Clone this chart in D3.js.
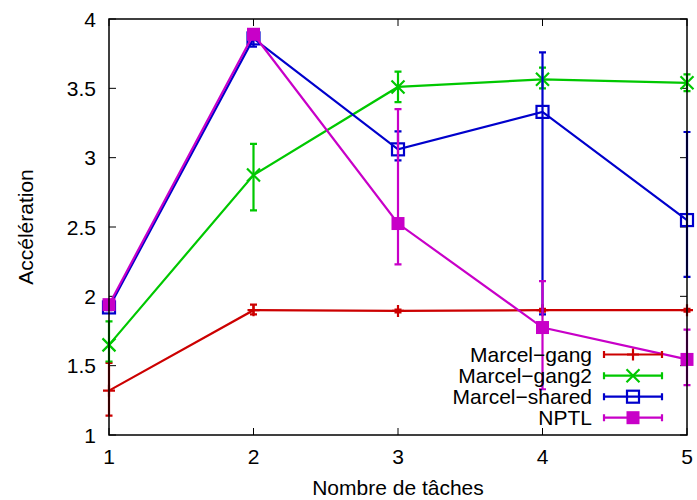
<!DOCTYPE html>
<html><head><meta charset="utf-8">
<script src="https://cdn.jsdelivr.net/npm/d3@7"></script>
<style>body{margin:0;background:#fff}svg{display:block}text{font-family:"Liberation Sans",Arial,sans-serif;fill:#000}</style>
</head><body>
<svg id="c" width="697" height="500"></svg>
<script>
const tasks = [1, 2, 3, 4, 5];
const seriesNames = ["Marcel\u2212gang", "Marcel\u2212gang2", "Marcel\u2212shared", "NPTL"];
const gangVal  = [1.32, 1.90, 1.895, 1.90, 1.90];
const gangLow  = [1.14, 1.87, 1.885, 1.89, 1.89];
const gangHigh = [1.52, 1.94, 1.905, 1.91, 1.91];
const gang2Val  = [1.65, 2.875, 3.51, 3.565, 3.54];
const gang2Low  = [1.53, 2.62, 3.40, 3.50, 3.48];
const gang2High = [1.82, 3.10, 3.62, 3.65, 3.60];
const sharedVal  = [1.92, 3.86, 3.06, 3.33, 2.55];
const sharedLow  = [1.90, 3.80, 2.98, 1.87, 2.14];
const sharedHigh = [1.95, 3.88, 3.19, 3.76, 3.185];
const nptlVal  = [1.94, 3.89, 2.525, 1.775, 1.545];
const nptlLow  = [1.92, 3.87, 2.23, 1.33, 1.36];
const nptlHigh = [1.96, 3.91, 3.35, 2.11, 1.76];
const yTicks = [1, 1.5, 2, 2.5, 3, 3.5, 4];
const xTicks = [1, 2, 3, 4, 5];
const colors = ["#cc0000", "#00c800", "#0000cc", "#c800c8"];
const markers = ["plus", "cross", "square", "filled"];

const series = [
  {name: seriesNames[0], v: gangVal, lo: gangLow, hi: gangHigh},
  {name: seriesNames[1], v: gang2Val, lo: gang2Low, hi: gang2High},
  {name: seriesNames[2], v: sharedVal, lo: sharedLow, hi: sharedHigh},
  {name: seriesNames[3], v: nptlVal, lo: nptlLow, hi: nptlHigh}
].map((s, i) => ({...s, color: colors[i], marker: markers[i]}));

const L = 109, R = 687, T = 19, B = 435;
const x = d3.scaleLinear().domain([1, 5]).range([L, R]);
const y = d3.scaleLinear().domain([1, 4]).range([B, T]);
const svg = d3.select("#c");
const FS = 21;

const tk = 7;
const g = svg.append("g");
yTicks.forEach(t => {
  g.append("line").attr("x1", L).attr("x2", L + tk).attr("y1", y(t)).attr("y2", y(t)).attr("stroke", "#000");
  g.append("line").attr("x1", R).attr("x2", R - tk).attr("y1", y(t)).attr("y2", y(t)).attr("stroke", "#000");
  g.append("text").attr("x", 96).attr("y", y(t)).attr("dy", "0.36em").attr("text-anchor", "end")
    .attr("font-size", FS).text(d3.format("")(t));
});
xTicks.forEach(t => {
  g.append("line").attr("x1", x(t)).attr("x2", x(t)).attr("y1", B).attr("y2", B - tk).attr("stroke", "#000");
  g.append("line").attr("x1", x(t)).attr("x2", x(t)).attr("y1", T).attr("y2", T + tk).attr("stroke", "#000");
  g.append("text").attr("x", x(t)).attr("y", 456).attr("dy", "0.36em").attr("text-anchor", "middle")
    .attr("font-size", FS).text(t);
});
svg.append("text").attr("x", (L + R) / 2).attr("y", 487).attr("dy", "0.36em").attr("text-anchor", "middle")
  .attr("font-size", FS).text("Nombre de tâches");
svg.append("text").attr("transform", `translate(25,${(T + B) / 2}) rotate(-90)`).attr("dy", "0.36em")
  .attr("text-anchor", "middle").attr("font-size", FS).text("Accélération");

function drawMarker(sel, type, cx, cy, color) {
  const h = 6.5;
  if (type === "plus") {
    sel.append("path").attr("d", `M${cx - 6},${cy}H${cx + 6}M${cx},${cy - 6}V${cy + 6}`)
      .attr("stroke", color).attr("stroke-width", 2.2).attr("fill", "none");
  } else if (type === "cross") {
    sel.append("path").attr("d", `M${cx - h},${cy - h}L${cx + h},${cy + h}M${cx - h},${cy + h}L${cx + h},${cy - h}`)
      .attr("stroke", color).attr("stroke-width", 2.2).attr("fill", "none");
  } else if (type === "square") {
    sel.append("rect").attr("x", cx - 6).attr("y", cy - 6).attr("width", 12).attr("height", 12)
      .attr("stroke", color).attr("stroke-width", 2.2).attr("fill", "none");
  } else {
    sel.append("rect").attr("x", cx - 6.5).attr("y", cy - 6.5).attr("width", 13).attr("height", 13)
      .attr("fill", color);
  }
}

const line = d3.line().x((d, i) => x(tasks[i])).y(d => y(d));
series.forEach(s => {
  const sg = svg.append("g");
  tasks.forEach((t, i) => {
    const cx = x(t);
    sg.append("path")
      .attr("d", `M${cx},${y(s.lo[i])}V${y(s.hi[i])}M${cx - 3.5},${y(s.lo[i])}H${cx + 3.5}M${cx - 3.5},${y(s.hi[i])}H${cx + 3.5}`)
      .attr("stroke", s.color).attr("stroke-width", 2.2).attr("fill", "none");
  });
  sg.append("path").datum(s.v).attr("d", line).attr("stroke", s.color).attr("stroke-width", 2.2).attr("fill", "none");
  tasks.forEach((t, i) => drawMarker(sg, s.marker, x(t), y(s.v[i]), s.color));
});

svg.append("rect").attr("x", L).attr("y", T).attr("width", R - L).attr("height", B - T)
  .attr("fill", "none").attr("stroke", "#000").attr("stroke-width", 1.5);

const rows = [354.5, 375.7, 396.7, 417.7];
series.forEach((s, i) => {
  const ry = rows[i];
  svg.append("text").attr("x", 592).attr("y", ry).attr("dy", "0.36em").attr("text-anchor", "end")
    .attr("font-size", FS).text(s.name);
  svg.append("path").attr("d", `M604,${ry}H662M604,${ry - 3.5}V${ry + 3.5}M662,${ry - 3.5}V${ry + 3.5}`)
    .attr("stroke", s.color).attr("stroke-width", 2.2).attr("fill", "none");
  drawMarker(svg, s.marker, 633, ry, s.color);
});
</script>
</body></html>
